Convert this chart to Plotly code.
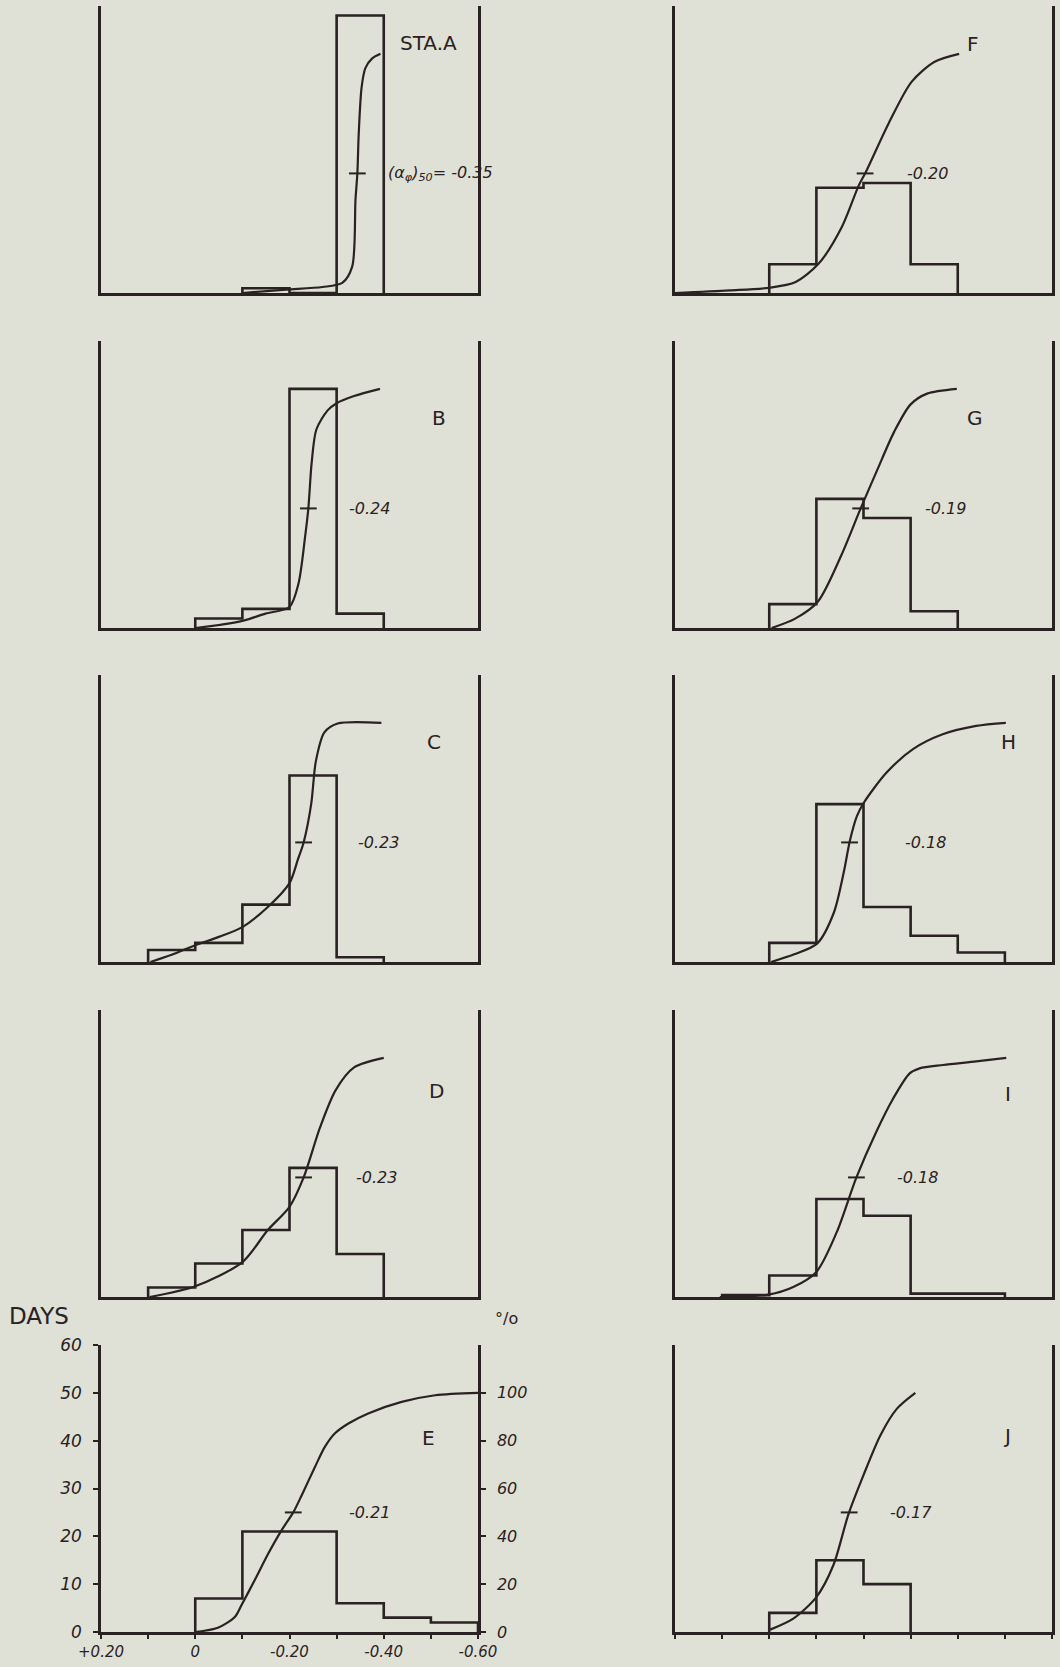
import numpy as np
import plotly.graph_objects as go

# ---------------- data ----------------
panels = ["A", "B", "C", "D", "E", "F", "G", "H", "I", "J"]
panel_titles = ["STA.A", "B", "C", "D", "E", "F", "G", "H", "I", "J"]
median_labels = ["-0.35", "-0.24", "-0.23", "-0.23", "-0.21",
                 "-0.20", "-0.19", "-0.18", "-0.18", "-0.17"]

# histogram: upper edge (alpha) of first 0.1-wide bin, then days per bin
hist_first_edge = [-0.1, 0.0, 0.1, 0.1, 0.0, 0.0, 0.0, 0.0, 0.1, 0.0]
hist_days = [
    [1, 0, 58],
    [2, 4, 50, 3],
    [2.5, 4, 12, 39, 1],
    [2, 7, 14, 27, 9],
    [7, 21, 21, 6, 3, 2],
    [6, 22, 23, 6],
    [5, 27, 23, 3.5],
    [4, 33, 11.5, 5.5, 2],
    [0.4, 4.5, 20.5, 17, 0.7, 0.7],
    [4, 15, 10],
]

# cumulative curves (alpha, percent)
curve_alpha = [
    [-0.10, -0.193, -0.27, -0.312, -0.333, -0.340, -0.344, -0.347, -0.353, -0.361, -0.375, -0.393],
    [0.0, -0.059, -0.104, -0.149, -0.20, -0.219, -0.233, -0.240, -0.247, -0.257, -0.281, -0.30, -0.337, -0.392],
    [0.095, 0.05, 0.0, -0.05, -0.10, -0.154, -0.20, -0.218, -0.23, -0.246, -0.256, -0.274, -0.302, -0.395],
    [0.097, 0.0, -0.10, -0.154, -0.20, -0.23, -0.265, -0.298, -0.337, -0.40],
    [0.0, -0.048, -0.084, -0.098, -0.126, -0.155, -0.183, -0.208, -0.226, -0.254, -0.275, -0.296, -0.325, -0.367, -0.438, -0.509, -0.60],
    [0.20, 0.084, 0.0, -0.056, -0.105, -0.154, -0.19, -0.205, -0.253, -0.302, -0.351, -0.403],
    [-0.005, -0.054, -0.103, -0.152, -0.194, -0.229, -0.265, -0.30, -0.335, -0.398],
    [-0.004, -0.053, -0.102, -0.137, -0.158, -0.171, -0.186, -0.201, -0.249, -0.305, -0.368, -0.439, -0.502],
    [0.105, 0.002, -0.051, -0.10, -0.143, -0.185, -0.227, -0.263, -0.298, -0.319, -0.369, -0.439, -0.503],
    [-0.002, -0.051, -0.10, -0.136, -0.168, -0.20, -0.236, -0.271, -0.31],
]
curve_pct = [
    [0, 1.4, 2.5, 4.2, 11, 39, 50, 67, 86, 94, 98, 100],
    [0, 1.5, 3.2, 6, 8.8, 18.5, 38, 50, 69, 83, 91, 94, 97, 100],
    [0, 3, 7, 10.5, 14.6, 23, 33, 43, 50, 66, 84, 96, 99.7, 100],
    [0, 4.5, 14.6, 28, 37.7, 50, 71, 86.5, 96, 100],
    [0, 1.8, 6.3, 11.2, 21.6, 32.8, 42.5, 50, 57.2, 69, 77.4, 83, 87.2, 91.4, 96.2, 99, 100],
    [0, 1.1, 2.2, 4.6, 12.3, 27.6, 45, 50.6, 70.8, 88.3, 96.7, 100],
    [0, 3.8, 11, 30, 50, 66, 82, 93.5, 98, 100],
    [0, 3.2, 7.8, 20.6, 37.4, 50.6, 61, 66.7, 79.2, 89, 95.2, 98.7, 100],
    [0, 1, 4.2, 10.5, 27, 50, 69, 83, 93.5, 95.6, 97, 98.5, 100],
    [1, 5.6, 14.6, 27.9, 49.2, 65.6, 82.3, 93.4, 100],
]

x_tick_vals = [0.2, 0.0, -0.2, -0.4, -0.6]
x_tick_text = ["+0.20", "0", "-0.20", "-0.40", "-0.60"]
x_minor_step = 0.1
days_ticks = [0, 10, 20, 30, 40, 50, 60]
pct_ticks = [0, 20, 40, 60, 80, 100]

# ---------------- layout / style ----------------
INK = "#2a2222"
BG = "#dfe0d6"
W, H = 1060, 1667
col_x = [(101, 478), (675, 1052)]
row_bottom = [293, 628, 962, 1297, 1632]
panel_h = 287
BIN = 0.1

# title positions (alpha, days) and median-label left edges (alpha)
title_pos = [(-0.494, 52.3), (-0.517, 44), (-0.507, 46), (-0.511, 43), (-0.496, 40.6),
             (-0.432, 52), (-0.437, 44), (-0.507, 46), (-0.507, 42.5), (-0.505, 41)]
median_label_x = [-0.405, -0.321, -0.342, -0.336, -0.321,
                  -0.288, -0.327, -0.284, -0.267, -0.252]

fig = go.Figure()
layout = dict(
    width=W, height=H, autosize=False,
    margin=dict(l=0, r=0, t=0, b=0, pad=0, autoexpand=False),
    paper_bgcolor=BG, plot_bgcolor=BG, showlegend=False,
    hovermode=False,
)
annotations = []

for i, name in enumerate(panels):
    col, row = divmod(i, 5)
    xs = "" if i == 0 else str(i + 1)
    xref, yref, pref = "x" + xs, "y" + xs, "y" + str(i + 11)
    x0, x1 = col_x[col]
    yb = row_bottom[row]
    yt = yb - panel_h
    xdom = [x0 / W, x1 / W]
    ydom = [1 - yb / H, 1 - yt / H]
    is_E = name == "E"
    is_J = name == "J"
    with_ticks = is_E or is_J

    layout["xaxis" + xs] = dict(
        domain=xdom, anchor=yref, range=[0.2, -0.6], showgrid=False, zeroline=False,
        showline=True, linecolor=INK, linewidth=2.5, mirror=False, automargin=False,
        tickmode="array", tickvals=x_tick_vals, ticktext=x_tick_text,
        ticks="outside" if with_ticks else "", ticklen=4, tickwidth=2, tickcolor=INK,
        minor=dict(dtick=x_minor_step, tick0=0, ticks="outside" if with_ticks else "",
                   ticklen=4, tickwidth=2, tickcolor=INK, showgrid=False),
        showticklabels=is_E,
        tickfont=dict(family="DejaVu Sans", size=15, color=INK, style="italic"),
    )
    layout["yaxis" + xs] = dict(
        domain=ydom, anchor=xref, range=[0, 60], showgrid=False, zeroline=False,
        showline=True, linecolor=INK, linewidth=2.5, mirror=not is_E, automargin=False,
        tickvals=days_ticks, ticks="outside" if is_E else "", ticklen=5, tickwidth=2,
        tickcolor=INK, showticklabels=is_E, ticklabelstandoff=8,
        tickfont=dict(family="DejaVu Sans", size=17, color=INK, style="italic"),
    )
    layout["yaxis" + str(i + 11)] = dict(
        overlaying=yref, anchor=xref, side="right", range=[0, 120],
        showgrid=False, zeroline=False, visible=is_E, automargin=False,
        showline=is_E, linecolor=INK, linewidth=2.5,
        tickvals=pct_ticks, ticks="outside", ticklen=5, tickwidth=2, tickcolor=INK,
        showticklabels=is_E, ticklabelstandoff=8,
        tickfont=dict(family="DejaVu Sans", size=16, color=INK, style="italic"),
    )

    # histogram as step outline
    edge = hist_first_edge[i]
    hx, hy = [edge], [0]
    for k, d in enumerate(hist_days[i]):
        a, b = edge - k * BIN, edge - (k + 1) * BIN
        hx += [a, b]
        hy += [d, d]
    hx.append(edge - len(hist_days[i]) * BIN)
    hy.append(0)
    fig.add_trace(go.Scatter(x=hx, y=hy, mode="lines", xaxis=xref, yaxis=yref,
                             line=dict(color=INK, width=2.6), hoverinfo="skip"))

    # cumulative curve
    fig.add_trace(go.Scatter(x=curve_alpha[i], y=curve_pct[i], mode="lines",
                             xaxis=xref, yaxis=pref,
                             line=dict(color=INK, width=2.2, shape="spline", smoothing=0.8),
                             hoverinfo="skip"))
    # median tick
    med_x = float(np.interp(50, curve_pct[i], curve_alpha[i]))
    fig.add_trace(go.Scatter(x=[med_x], y=[50], mode="markers", xaxis=xref, yaxis=pref,
                             marker=dict(symbol="line-ew", size=12,
                                         line=dict(color=INK, width=2)),
                             hoverinfo="skip"))

    tx, ty = title_pos[i]
    annotations.append(dict(x=tx, y=ty, xref=xref, yref=yref, text=panel_titles[i],
                            showarrow=False, xanchor="center", yanchor="middle",
                            font=dict(family="DejaVu Sans", size=20, color=INK)))
    mtext = median_labels[i]
    if i == 0:
        mtext = "(α<sub>φ</sub>)<sub>50</sub>= " + mtext
    annotations.append(dict(x=median_label_x[i], y=50, xref=xref, yref=pref, text=mtext,
                            showarrow=False, xanchor="left", yanchor="middle",
                            font=dict(family="DejaVu Sans", size=16, color=INK,
                                      style="italic")))

annotations.append(dict(x=7 / W, y=1 - 1316 / H, xref="paper", yref="paper", text="DAYS",
                        showarrow=False, xanchor="left", yanchor="middle",
                        font=dict(family="DejaVu Sans", size=23, color=INK)))
annotations.append(dict(x=506 / W, y=1 - 1318 / H, xref="paper", yref="paper", text="°/o",
                        showarrow=False, xanchor="center", yanchor="middle",
                        font=dict(family="DejaVu Sans", size=16, color=INK)))

layout["annotations"] = annotations
fig.update_layout(**layout)
fig.write_html(
    "out.html",
    config={"displayModeBar": False},
    post_script=("document.body.style.margin='0';"
                 "document.body.style.background='" + BG + "';"
                 "document.body.style.overflow='hidden';"),
)
